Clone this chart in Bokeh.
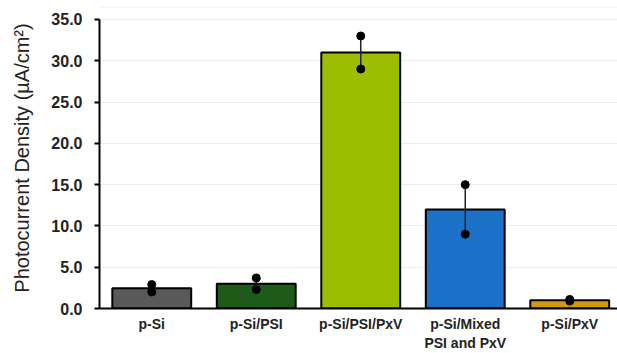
from bokeh.plotting import figure
from bokeh.models import FixedTicker, PrintfTickFormatter, Span, ColumnDataSource, Range1d
from bokeh.embed import file_html
from bokeh.resources import INLINE

categories = ["p-Si", "p-Si/PSI", "p-Si/PSI/PxV", "p-Si/Mixed\nPSI and PxV", "p-Si/PxV"]
means = [2.45, 3.0, 31.0, 12.0, 1.0]
rep_high = [2.9, 3.7, 33.0, 15.0, 1.1]
rep_low = [2.0, 2.3, 29.0, 9.0, 0.9]
colors = ["#595959", "#1E5A1A", "#9DBE00", "#1B70C8", "#CF9A0D"]
y_ticks = [0, 5, 10, 15, 20, 25, 30, 35]

xs = list(range(len(categories)))

p = figure(width=617, height=353, output_backend="svg", toolbar_location=None,
           x_range=Range1d(-0.5, 4.457), y_range=Range1d(0, 36.45),
           min_border_left=99, min_border_right=0, min_border_top=7, min_border_bottom=45)
p.outline_line_color = None
p.background_fill_color = "white"

src = ColumnDataSource(dict(x=xs, top=means, color=colors, hi=rep_high, lo=rep_low))
p.vbar(x="x", top="top", bottom=0, width=0.755, fill_color="color", line_color="black",
       line_width=2, source=src)
p.segment(x0="x", y0="lo", x1="x", y1="hi", line_color="#222222", line_width=1.5, source=src)
p.scatter(x=xs + xs, y=rep_high + rep_low, size=8, color="black")

p.add_layout(Span(location=36.45, dimension="width", line_color="#e8e8e8", line_width=1))

p.xgrid.visible = False
p.ygrid.ticker = FixedTicker(ticks=y_ticks)
p.ygrid.grid_line_color = "#ececec"
p.ygrid.grid_line_width = 1

p.yaxis.ticker = FixedTicker(ticks=y_ticks)
p.yaxis.bounds = (0, 35)
p.yaxis.formatter = PrintfTickFormatter(format="%.1f")
p.yaxis.axis_line_width = 2
p.yaxis.axis_line_color = "black"
p.yaxis.major_tick_out = 5
p.yaxis.major_tick_in = 0
p.yaxis.major_tick_line_width = 2
p.yaxis.minor_tick_line_color = None
p.yaxis.major_label_text_font = "Liberation Sans"
p.yaxis.major_label_text_font_style = "bold"
p.yaxis.major_label_text_font_size = "16px"
p.yaxis.major_label_text_color = "#222222"
p.yaxis.major_label_standoff = 12
p.yaxis.axis_label = "Photocurrent Density (µA/cm²)"
p.yaxis.axis_label_text_font = "Liberation Sans"
p.yaxis.axis_label_text_font_style = "normal"
p.yaxis.axis_label_text_font_size = "20px"
p.yaxis.axis_label_text_color = "#222222"
p.yaxis.axis_label_standoff = 15

p.xaxis.ticker = FixedTicker(ticks=xs)
p.xaxis.major_label_overrides = {i: c for i, c in enumerate(categories)}
p.xaxis.axis_line_width = 2
p.xaxis.axis_line_color = "black"
p.xaxis.major_tick_line_color = None
p.xaxis.minor_tick_line_color = None
p.xaxis.major_label_text_font = "Liberation Sans"
p.xaxis.major_label_text_font_style = "bold"
p.xaxis.major_label_text_font_size = "14px"
p.xaxis.major_label_text_color = "#222222"
p.xaxis.major_label_standoff = 1

open("out.html", "w").write(file_html(p, INLINE))
